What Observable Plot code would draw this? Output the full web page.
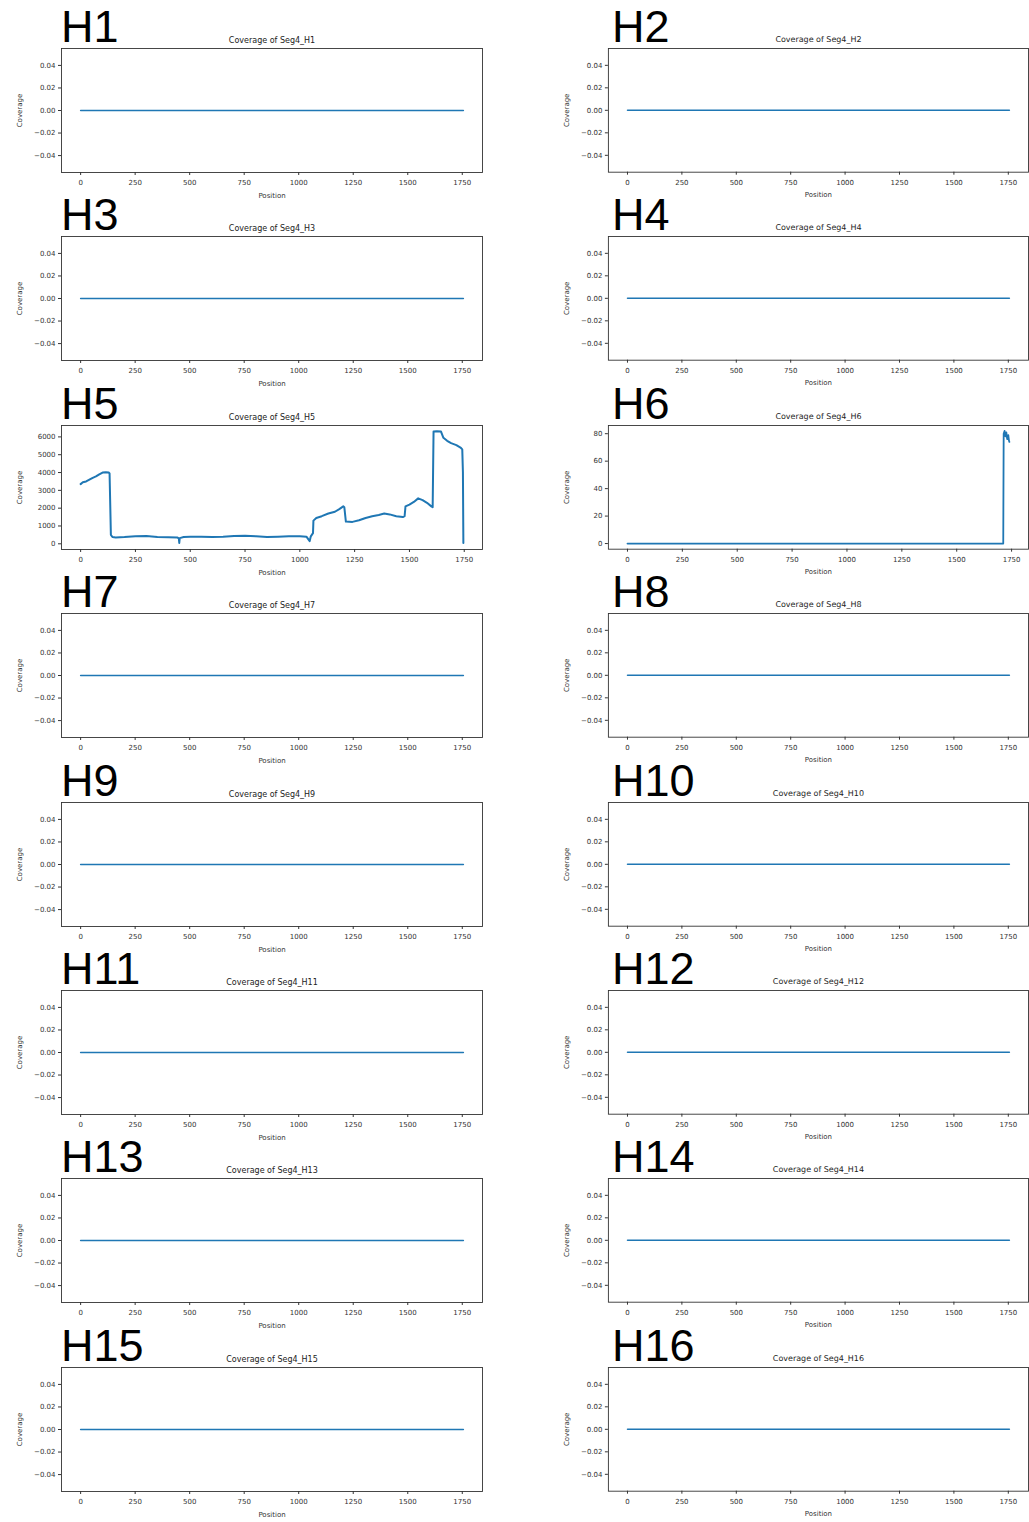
<!DOCTYPE html>
<html><head><meta charset="utf-8">
<script src="https://cdn.jsdelivr.net/npm/d3@7"></script>
<script src="https://cdn.jsdelivr.net/npm/@observablehq/plot@0.6"></script>
<style>
html,body{margin:0;padding:0;background:#fff;}
#root{position:relative;width:1029px;height:1522px;overflow:hidden;background:#fff;}
.lab{position:absolute;font-family:"Liberation Sans",Arial,sans-serif;font-size:45px;line-height:1;color:#000;white-space:nowrap;}
.pan{position:absolute;}
</style></head><body><div id="root"></div>
<script>
// ---- data ----
const panelNames = ["H1","H2","H3","H4","H5","H6","H7","H8","H9","H10","H11","H12","H13","H14","H15","H16"];
const xTicks = [0, 250, 500, 750, 1000, 1250, 1500, 1750];
const zeroTicks = [-0.04, -0.02, 0, 0.02, 0.04];
const h5Ticks = [0, 1000, 2000, 3000, 4000, 5000, 6000];
const h6Ticks = [0, 20, 40, 60, 80];

// flat (no coverage) segments
const zeroPos = [0, 1755];
const zeroCov = [0, 0];

// H5 coverage
const h5Pos = [0,10,25,40,55,70,85,100,115,128,132,138,145,160,200,250,300,350,400,440,448,450,452,470,500,550,600,650,700,750,800,850,900,950,1000,1030,1045,1050,1060,1062,1075,1100,1130,1160,1180,1198,1203,1210,1240,1270,1300,1330,1360,1385,1410,1440,1470,1478,1482,1500,1520,1540,1560,1580,1600,1606,1610,1625,1644,1655,1672,1690,1714,1735,1741,1744,1746];
const h5Cov = [3350,3450,3500,3600,3700,3780,3900,4000,4020,4000,3950,500,380,360,380,420,440,380,370,360,300,50,320,380,390,400,380,400,440,450,420,380,400,420,430,400,150,420,600,1300,1450,1550,1700,1800,1950,2100,2050,1250,1230,1320,1450,1550,1620,1700,1650,1550,1500,1550,2100,2200,2350,2550,2450,2300,2100,2050,6300,6320,6300,5950,5780,5650,5540,5380,5300,4000,50];

// H6 coverage
const h6Pos = [0, 1712, 1714, 1718, 1722, 1726, 1730, 1735, 1738, 1740];
const h6Cov = [0, 0, 80, 82, 78, 81, 76, 79, 75, 74];

// ---- layout ----
const root = document.getElementById("root");
const fmt2 = d3.format(".2f");

function makePanel(name, pos, cov, yDomain, yTicks, yFmt, sw) {
  const L = d3.max(pos);
  const data = pos.map((p, i) => ({p, c: cov[i]}));
  return Plot.plot({
    width: 483, height: 174,
    marginLeft: 61, marginRight: 1, marginTop: 20, marginBottom: 30,
    style: {fontFamily: "'DejaVu Sans', sans-serif", fontSize: "7px", color: "#333", background: "white", overflow: "visible"},
    x: {domain: [-0.05 * L, 1.05 * L]},
    y: {domain: yDomain},
    marks: [
      Plot.frame({stroke: "#333", strokeWidth: 0.9}),
      Plot.line(data, {x: "p", y: "c", stroke: "#1f77b4", strokeWidth: sw}),
      Plot.axisX({ticks: xTicks, tickSize: 3, tickFormat: d => String(d), tickPadding: 5,
        label: "Position", labelAnchor: "center", labelOffset: 25, labelArrow: "none"}),
      Plot.axisY({ticks: yTicks, tickSize: 3, tickFormat: yFmt, tickPadding: 3,
        label: "Coverage", labelAnchor: "center", labelOffset: 44, labelArrow: "none"}),
      Plot.text([`Coverage of Seg4_${name}`], {frameAnchor: "top", lineAnchor: "bottom", dy: -6, fontSize: 8, fill: "#222"})
    ]
  });
}

panelNames.forEach((name, i) => {
  const col = i % 2, row = Math.floor(i / 2);
  const frameTop = 48 + row * 188.4;
  let pos = zeroPos, cov = zeroCov, dom = [-0.055, 0.055], ticks = zeroTicks, f = d => fmt2(d), sw = 1.5;
  if (name === "H5") { pos = h5Pos; cov = h5Cov; dom = [-320, 6640]; ticks = h5Ticks; f = d => String(d); sw = 2; }
  if (name === "H6") { pos = h6Pos; cov = h6Cov; dom = [-4.1, 86]; ticks = h6Ticks; f = d => String(d); sw = 1.8; }
  const svg = makePanel(name, pos, cov, dom, ticks, f, sw);
  const wrap = document.createElement("div");
  wrap.className = "pan";
  wrap.style.left = (col === 0 ? 0 : 547) + "px";
  wrap.style.top = (frameTop - 20) + "px";
  wrap.appendChild(svg);
  root.appendChild(wrap);
  const lab = document.createElement("div");
  lab.className = "lab";
  lab.textContent = name;
  lab.style.left = (col === 0 ? 61 : 612) + "px";
  lab.style.top = (frameTop - 44) + "px";
  root.appendChild(lab);
});
</script></body></html>
